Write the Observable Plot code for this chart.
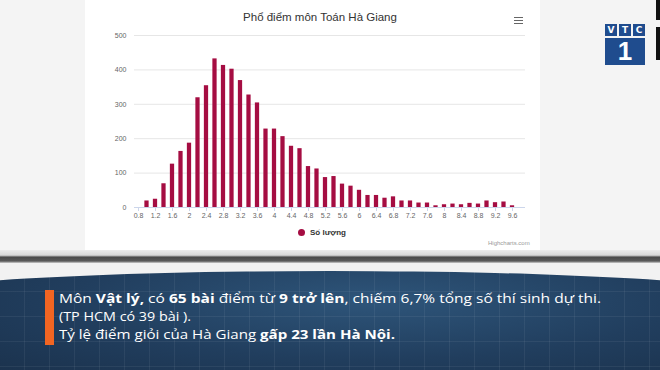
<!DOCTYPE html>
<html><head><meta charset="utf-8">
<script src="https://cdn.jsdelivr.net/npm/d3@7"></script>
<script src="https://cdn.jsdelivr.net/npm/@observablehq/plot@0.6"></script>
<style>
html,body{margin:0;padding:0;}
body{width:660px;height:370px;overflow:hidden;position:relative;background:#f4f4f4;font-family:"Liberation Sans",Arial,sans-serif;}
.abs{position:absolute;}
#panel{left:85px;top:0;width:455px;height:250px;background:#fff;}
#title{left:170px;width:300px;top:10px;text-align:center;font-size:11.5px;line-height:14px;color:#333;}
#burger{left:514px;top:17px;width:9px;height:7px;}
#burger div{height:1.4px;background:#666;margin-bottom:1.5px;}
#chart{left:85px;top:25px;}
#legend{left:298px;top:228px;font-size:8px;font-weight:bold;color:#333;line-height:10px;white-space:nowrap;}
#legend span.dot{display:inline-block;width:7px;height:7px;border-radius:50%;background:#a50d42;vertical-align:-1px;margin-right:5px;}
#credit{left:488px;top:240px;font-size:6px;color:#999;}
#band1{left:0;top:250px;width:660px;height:13px;background:linear-gradient(#ececec 0%,#d8d8d8 40%,#4a4a4a 55%,#5a5a5a 85%,#cfcfcf 100%);}
#band2{left:0;top:263px;width:660px;height:30px;background:#f2f2f2;}
#banner{left:-100px;top:271px;width:860px;height:120px;border-top-left-radius:50% 26px;border-top-right-radius:50% 26px;
 background:
 repeating-linear-gradient(90deg,rgba(255,255,255,0) 0 24px,rgba(255,255,255,0.06) 24px 25px),
 repeating-linear-gradient(0deg,rgba(255,255,255,0) 0 24px,rgba(255,255,255,0.06) 24px 25px),
 radial-gradient(ellipse at 55% 25%,#2e557a 0%,#213e5e 45%,#172b43 100%);}
#obar{left:45px;top:290px;width:9px;height:55px;background:#f26522;}
.line{position:absolute;left:59px;color:#fff;font-family:"Open Sans","Noto Sans",sans-serif;font-size:13px;white-space:nowrap;transform-origin:0 50%;line-height:16px;}
.line b{font-weight:700;}
#vtc{left:605px;top:24px;width:40px;height:40px;}
.cell{position:absolute;top:0;width:12px;height:12px;background:#1f4c8e;color:#fff;font:bold 9px/12px "DejaVu Sans",sans-serif;text-align:center;}
#one{position:absolute;left:0;top:14px;width:40px;height:27px;background:#1f4c8e;color:#fff;font:bold 26px/27px "Liberation Sans",Arial,sans-serif;text-align:center;}
.blk{position:absolute;left:656px;width:4px;background:#111;}
</style></head>
<body>
<div id="panel" class="abs"></div>
<div id="title" class="abs">Phổ điểm môn Toán Hà Giang</div>
<div id="burger" class="abs"><div></div><div></div><div></div></div>
<div id="chart" class="abs"></div>
<div id="legend" class="abs"><span class="dot"></span>Số lượng</div>
<div id="credit" class="abs">Highcharts.com</div>
<div id="band1" class="abs"></div>
<div id="band2" class="abs"></div>
<div id="banner" class="abs"></div>
<div id="obar" class="abs"></div>
<div class="line" id="l1" style="top:290px">Môn <b>Vật lý,</b> có <b>65 bài</b> điểm từ <b>9 trở lên</b>, chiếm 6,7% tổng số thí sinh dự thi.</div>
<div class="line" id="l2" style="top:308px">(TP HCM có 39 bài ).</div>
<div class="line" id="l3" style="top:326px">Tỷ lệ điểm giỏi của Hà Giang <b>gấp 23 lần Hà Nội.</b></div>
<div id="vtc" class="abs">
 <div class="cell" style="left:0">V</div><div class="cell" style="left:14px">T</div><div class="cell" style="left:28px">C</div>
 <div id="one">1</div>
</div>
<div class="blk" style="top:0;height:20px"></div>
<div class="blk" style="top:27px;height:33px"></div>
<script>
const scores = [0.8,1.0,1.2,1.4,1.6,1.8,2.0,2.2,2.4,2.6,2.8,3.0,3.2,3.4,3.6,3.8,4.0,4.2,4.4,4.6,4.8,5.0,5.2,5.4,5.6,5.8,6.0,6.2,6.4,6.6,6.8,7.0,7.2,7.4,7.6,7.8,8.0,8.2,8.4,8.6,8.8,9.0,9.2,9.4,9.6];
const counts = [0,19,24,69,126,163,187,319,354,432,413,402,369,327,304,228,228,206,178,171,119,112,87,90,68,62,50,35,35,27,31,19,19,13,13,5,8,10,8,12,10,19,14,16,5];
const xTicks = [0.8,1.2,1.6,2,2.4,2.8,3.2,3.6,4,4.4,4.8,5.2,5.6,6,6.4,6.8,7.2,7.6,8,8.4,8.8,9.2,9.6];
const yTicks = [0,100,200,300,400,500];
const data = scores.map((s,i)=>({score:s,count:counts[i]}));
const barColor = "#a50d42";
const half = 0.05;

const chart = Plot.plot({
  width:455, height:200,
  marginLeft:49, marginRight:15, marginTop:10, marginBottom:18,
  style:{fontSize:"7px",fontFamily:"Liberation Sans, Arial, sans-serif",color:"#666",background:"transparent"},
  x:{domain:[0.706,9.906]},
  y:{domain:[0,500]},
  marks:[
    Plot.gridY(yTicks,{stroke:"#e6e6e6",strokeOpacity:1}),
    Plot.ruleY([0],{stroke:"#ccd6eb"}),
    Plot.rectY(data,{x1:d=>d.score-half,x2:d=>d.score+half,y:"count",fill:barColor}),
    Plot.axisX({ticks:xTicks,tickSize:4,tickPadding:2,stroke:"#ccd6eb",strokeOpacity:1,label:null,fill:"#666",tickFormat:d=>String(d)}),
    Plot.axisY({ticks:yTicks,tickSize:0,tickPadding:8,label:null,fill:"#666"})
  ]
});
document.getElementById("chart").appendChild(chart);

const targets = {l1:542,l2:132,l3:336};
for (const id in targets){
  const el=document.getElementById(id);
  const w=el.getBoundingClientRect().width;
  el.style.transform=`scaleX(${targets[id]/w})`;
}
</script>
</body></html>
